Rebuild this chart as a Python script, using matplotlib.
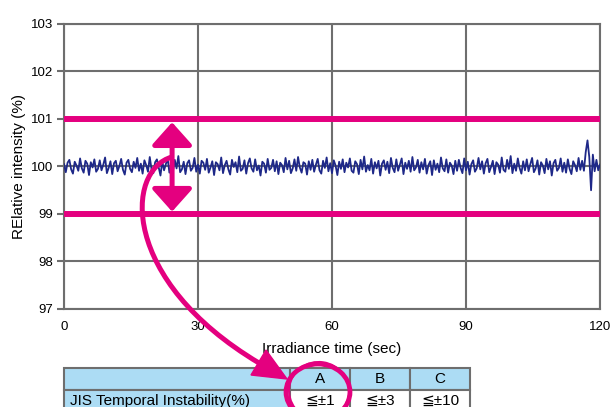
import matplotlib
matplotlib.use('Agg')
import matplotlib.pyplot as plt
from matplotlib.path import Path
from matplotlib.patches import PathPatch, Polygon, Rectangle, Ellipse
from matplotlib.transforms import Affine2D

plt.rcParams['font.family'] = ['Liberation Sans', 'DejaVu Sans']

# relative intensity, deviation from 100 % in units of 0.01 %, one sample every 0.4 s
dev = [
    5, -12, 8, 14, -6, -15, 10, 2, -9, 17, -4, -13, 12, 6, -18, 9, -2, 15, -11, -5,
    13, -8, 4, 19, -14, -3, 11, -16, 7, 12, -10, 1, 16, -7, -17, 8, 14, -5, -12, 10,
    -3, 18, -9, 6, -15, 13, 3, -11, 20, -6, -14, 9, 15, -2, -19, 11, -8, 5, 17, -13,
    2, -10, 14, -4, 22, -12, -6, 10, -16, 7, 13, -9, -3, 18, -11, 4, -15, 12, 8, -7,
    16, -13, -2, 11, -18, 9, 5, -8, 19, -14, 3, 12, -6, -17, 14, -1, 9, -12, 21, -9,
    -5, 13, -15, 7, 17, -4, -11, 15, -8, 2, -19, 10, 6, -13, 16, -7, -3, 14, -10, 11,
    -16, 8, 3, -12, 18, -6, 12, -14, -4, 15, -9, 20, -2, -13, 9, 6, -17, 11, -7, 14,
    -11, 4, 16, -8, -15, 12, -3, 19, -10, 7, -14, 13, 2, -18, 10, -5, 15, -12, 8, -2,
    17, -9, -13, 11, 5, -16, 14, -6, 21, -11, 3, -8, 16, -15, 9, -4, 12, -19, 6, 13,
    -7, 10, -14, 18, -3, -12, 15, -9, 4, 17, -16, 8, -5, 12, -11, 20, -8, -2, 14, -13,
    9, -6, 16, -15, 3, 11, -18, 13, -7, 6, -12, 19, -4, -10, 15, -13, 8, 2, -16, 12,
    -9, 14, -3, -14, 17, -8, 10, -17, 5, 13, -11, -4, 18, -6, 11, -15, 7, 16, -12, -1,
    12, -16, 9, 4, -13, 19, -7, -11, 14, -5, 22, -14, 6, -9, 17, -3, -15, 11, -8, 15,
    -10, 5, 18, -12, -4, 13, -17, 9, 2, -14, 16, -6, 11, -19, 7, 14, -9, -3, 17, -11,
    8, -13, 15, -5, -16, 11, 3, -10, 18, -7, 12, -9, 30, 55, 20, -50, 25, -10, 14, -8,
    4,
]
times = [i * 0.4 for i in range(len(dev))]
intensity = [100 + d / 100 for d in dev]

limit_hi = 101
limit_lo = 99

xticks = [0, 30, 60, 90, 120]
yticks = [97, 98, 99, 100, 101, 102, 103]

table_head = ['', 'A', 'B', 'C']
table_row = ['JIS Temporal Instability(%)', '≦±1', '≦±3', '≦±10']

magenta = '#e4007f'
navy = '#1e2888'
grey = '#6e6e6e'

W, H = 611, 407
fig = plt.figure(figsize=(W / 100, H / 100), dpi=100)
ax = fig.add_axes([64 / W, (H - 309) / H, 536 / W, 285 / H])

ax.plot(times, intensity, color=navy, linewidth=1.3, zorder=3)
ax.axhline(limit_hi, color=magenta, linewidth=4.3, zorder=4)
ax.axhline(limit_lo, color=magenta, linewidth=4.3, zorder=4)

ax.set_xlim(0, 120)
ax.set_ylim(97, 103)
ax.set_xticks(xticks)
ax.set_yticks(yticks)
ax.grid(True, color=grey, linewidth=1.5)
ax.set_axisbelow(True)
for s in ax.spines.values():
    s.set_color(grey)
    s.set_linewidth(1.5)
ax.tick_params(axis='x', length=0, pad=9, labelsize=9.5)
ax.tick_params(axis='y', length=5, width=1.5, color=grey, pad=3, labelsize=9.5)
ax.set_xlabel('Irradiance time (sec)', fontsize=11, labelpad=6)
ax.set_ylabel('RElative intensity (%)', fontsize=11, labelpad=3)

# double arrow between the limits
ax.annotate('', xy=(24.2, 100.93), xytext=(24.2, 99.05),
            arrowprops=dict(arrowstyle='<|-|>,head_length=14,head_width=12.5',
                            mutation_scale=1, color=magenta, linewidth=3.6,
                            shrinkA=0, shrinkB=0), zorder=5)

# pixel coords (top-left origin) on the figure
px = Affine2D().scale(1 / W, -1 / H).translate(0, 1) + fig.transFigure

# table
cols = [64, 290, 350, 410, 470]
rows = [368, 390, 412]
light_blue = '#acdcf4'
for r, cells in enumerate([table_head, table_row]):
    for c, txt in enumerate(cells):
        fc = light_blue if (r == 0 or c == 0) else 'white'
        rect = Rectangle((cols[c], rows[r]), cols[c + 1] - cols[c], rows[r + 1] - rows[r],
                         facecolor=fc, edgecolor=grey, linewidth=1.5, transform=px)
        fig.add_artist(rect)
        if c == 0:
            fig.text(70, (rows[r] + rows[r + 1]) / 2, txt, transform=px,
                     ha='left', va='center', fontsize=11)
        else:
            fig.text((cols[c] + cols[c + 1]) / 2, (rows[r] + rows[r + 1]) / 2, txt,
                     transform=px, ha='center', va='center', fontsize=11)

# curved arrow to column A
curve = Path([(172, 157), (125, 170), (120, 280), (259, 363)],
             [Path.MOVETO, Path.CURVE4, Path.CURVE4, Path.CURVE4])
fig.add_artist(PathPatch(curve, facecolor='none', edgecolor=magenta,
                         linewidth=3.6, transform=px, zorder=6))
fig.add_artist(Polygon([(287, 379), (251, 375), (266, 350)], closed=True,
                       facecolor=magenta, edgecolor=magenta, linewidth=1,
                       transform=px, zorder=6))

# hand-drawn ring round column A
fig.add_artist(Ellipse((318, 392), 64, 56, facecolor='none', edgecolor=magenta,
                       linewidth=3.4, transform=px, zorder=6))
fig.add_artist(Ellipse((319, 391), 60, 58, angle=8, facecolor='none', edgecolor=magenta,
                       linewidth=1.5, transform=px, zorder=6))

fig.savefig('out.png', dpi=100)
